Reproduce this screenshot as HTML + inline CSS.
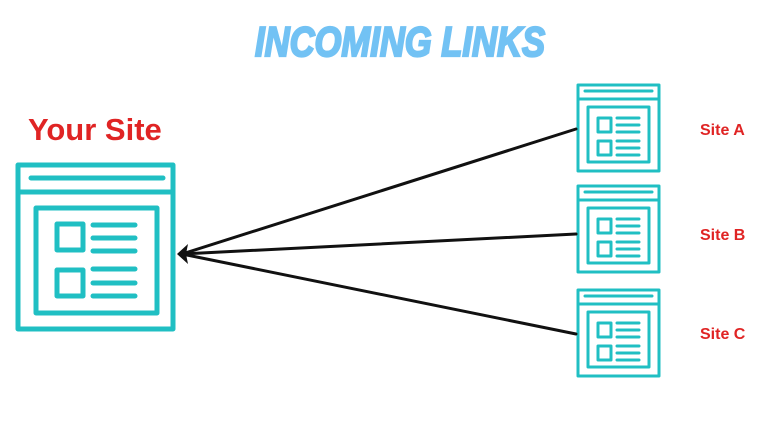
<!DOCTYPE html>
<html><head><style>
body{margin:0;width:758px;height:426px;background:#fff;overflow:hidden;font-family:"Liberation Sans",sans-serif}
</style></head><body>
<svg width="758" height="426" xmlns="http://www.w3.org/2000/svg">
<text x="400" y="56" text-anchor="middle" font-family="Liberation Sans" font-weight="bold" font-style="italic" font-size="42" fill="#72c2f4" stroke="#72c2f4" stroke-width="2.2" textLength="290" lengthAdjust="spacingAndGlyphs">INCOMING LINKS</text>
<text x="28" y="140" font-weight="bold" font-size="31" fill="#e02424">Your Site</text>
<g fill="none" stroke="#20bfc3" stroke-linecap="round" stroke-linejoin="round">
 <g stroke-width="5">
  <rect x="18" y="165" width="155" height="164"/>
  <line x1="19" y1="192" x2="172" y2="192"/>
  <line x1="31" y1="178" x2="163" y2="178"/>
  <rect x="36" y="208" width="121" height="105"/>
  <rect x="57" y="224" width="26" height="26"/>
  <rect x="57" y="270" width="26" height="26"/>
  <line x1="93" y1="225" x2="135" y2="225"/>
  <line x1="93" y1="238" x2="135" y2="238"/>
  <line x1="93" y1="251" x2="135" y2="251"/>
  <line x1="93" y1="269" x2="135" y2="269"/>
  <line x1="93" y1="283" x2="135" y2="283"/>
  <line x1="93" y1="296" x2="135" y2="296"/>
 </g>
 <g id="s" stroke-width="3">
  <rect x="578" y="85" width="81" height="86"/>
  <line x1="578" y1="99" x2="659" y2="99"/>
  <line x1="585" y1="91" x2="652" y2="91"/>
  <rect x="588" y="107" width="61" height="55"/>
  <rect x="598" y="118" width="13" height="14"/>
  <rect x="598" y="141" width="13" height="14"/>
  <line x1="617" y1="118" x2="639" y2="118"/>
  <line x1="617" y1="125" x2="639" y2="125"/>
  <line x1="617" y1="132" x2="639" y2="132"/>
  <line x1="617" y1="141" x2="639" y2="141"/>
  <line x1="617" y1="148" x2="639" y2="148"/>
  <line x1="617" y1="155" x2="639" y2="155"/>
 </g>
 <use href="#s" y="101"/>
 <use href="#s" y="205"/>
</g>
<g stroke="#111" stroke-width="3" stroke-linecap="round">
 <line x1="182" y1="254" x2="576" y2="129"/>
 <line x1="182" y1="254" x2="576" y2="234"/>
 <line x1="182" y1="254" x2="576" y2="334"/>
</g>
<path d="M177 254 L188 244 L186 254 L188 264 Z" fill="#111"/>
<g font-weight="bold" font-size="16" fill="#e02424">
 <text x="700" y="135">Site A</text>
 <text x="700" y="240">Site B</text>
 <text x="700" y="339">Site C</text>
</g>
</svg>
</body></html>
